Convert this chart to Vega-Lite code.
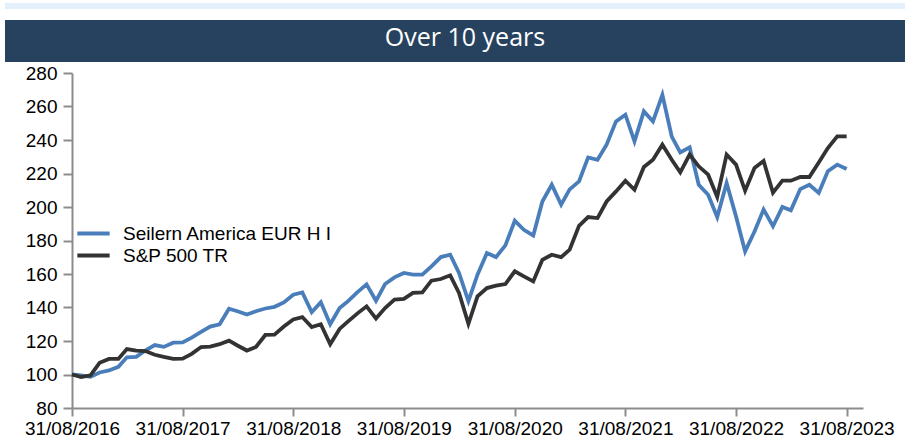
{
  "$schema": "https://vega.github.io/schema/vega-lite/v6.json",
  "padding": {"left": 5, "right": 5, "top": 0, "bottom": 0},
  "background": "white",
  "spacing": 2,
  "config": {"view": {"stroke": null}, "font": "Liberation Sans"},
  "vconcat": [
    {
      "spacing": 9,
      "vconcat": [
        {
          "width": 900, "height": 6,
          "view": {"fill": "#e3f0fb", "stroke": null},
          "data": {"values": [{"t": ""}]},
          "mark": {"type": "text"},
          "encoding": {"text": {"field": "t"}}
        },
        {
          "width": 900, "height": 42,
          "view": {"fill": "#27425e", "stroke": null},
          "data": {"values": [{"t": "Over 10 years"}]},
          "mark": {"type": "text", "font": "Open Sans", "fontSize": 25, "color": "white", "baseline": "middle", "dy": -3, "dx": 10},
          "encoding": {"text": {"field": "t"}}
        }
      ]
    },
    {
      "spacing": 20,
      "bounds": "flush",
      "hconcat": [
        {
          "width": 47, "height": 335,
          "data": {"values": [{"t": ""}]},
          "mark": {"type": "text"},
          "encoding": {"text": {"field": "t"}}
        },
        {
          "width": 791, "height": 335,
          "data": {"values": [
            {"date": "2016-08-31", "Seilern America EUR H I": 100, "S&P 500 TR": 100},
            {"date": "2016-09-30", "Seilern America EUR H I": 99.5, "S&P 500 TR": 98.5},
            {"date": "2016-10-31", "Seilern America EUR H I": 98.6, "S&P 500 TR": 99.5},
            {"date": "2016-11-30", "Seilern America EUR H I": 101.2, "S&P 500 TR": 107},
            {"date": "2016-12-31", "Seilern America EUR H I": 102.4, "S&P 500 TR": 109.3},
            {"date": "2017-01-31", "Seilern America EUR H I": 104.6, "S&P 500 TR": 109.3},
            {"date": "2017-02-28", "Seilern America EUR H I": 110.3, "S&P 500 TR": 115.2},
            {"date": "2017-03-31", "Seilern America EUR H I": 110.5, "S&P 500 TR": 114.3},
            {"date": "2017-04-30", "Seilern America EUR H I": 114.3, "S&P 500 TR": 114},
            {"date": "2017-05-31", "Seilern America EUR H I": 117.6, "S&P 500 TR": 111.8},
            {"date": "2017-06-30", "Seilern America EUR H I": 116.5, "S&P 500 TR": 110.5},
            {"date": "2017-07-31", "Seilern America EUR H I": 119, "S&P 500 TR": 109.3},
            {"date": "2017-08-31", "Seilern America EUR H I": 119.2, "S&P 500 TR": 109.5},
            {"date": "2017-09-30", "Seilern America EUR H I": 122, "S&P 500 TR": 112.3},
            {"date": "2017-10-31", "Seilern America EUR H I": 125.4, "S&P 500 TR": 116.4},
            {"date": "2017-11-30", "Seilern America EUR H I": 128.6, "S&P 500 TR": 116.7},
            {"date": "2017-12-31", "Seilern America EUR H I": 130, "S&P 500 TR": 118.1},
            {"date": "2018-01-31", "Seilern America EUR H I": 139.3, "S&P 500 TR": 120.2},
            {"date": "2018-02-28", "Seilern America EUR H I": 137.8, "S&P 500 TR": 117.3},
            {"date": "2018-03-31", "Seilern America EUR H I": 135.8, "S&P 500 TR": 114.3},
            {"date": "2018-04-30", "Seilern America EUR H I": 137.8, "S&P 500 TR": 116.4},
            {"date": "2018-05-31", "Seilern America EUR H I": 139.4, "S&P 500 TR": 123.6},
            {"date": "2018-06-30", "Seilern America EUR H I": 140.4, "S&P 500 TR": 123.8},
            {"date": "2018-07-31", "Seilern America EUR H I": 143, "S&P 500 TR": 128.6},
            {"date": "2018-08-31", "Seilern America EUR H I": 147.6, "S&P 500 TR": 132.9},
            {"date": "2018-09-30", "Seilern America EUR H I": 149, "S&P 500 TR": 134.3},
            {"date": "2018-10-31", "Seilern America EUR H I": 137.2, "S&P 500 TR": 128.3},
            {"date": "2018-11-30", "Seilern America EUR H I": 143.2, "S&P 500 TR": 130},
            {"date": "2018-12-31", "Seilern America EUR H I": 130, "S&P 500 TR": 118},
            {"date": "2019-01-31", "Seilern America EUR H I": 139.7, "S&P 500 TR": 127.2},
            {"date": "2019-02-28", "Seilern America EUR H I": 143.8, "S&P 500 TR": 131.7},
            {"date": "2019-03-31", "Seilern America EUR H I": 149.2, "S&P 500 TR": 136.5},
            {"date": "2019-04-30", "Seilern America EUR H I": 153.8, "S&P 500 TR": 140.7},
            {"date": "2019-05-31", "Seilern America EUR H I": 144, "S&P 500 TR": 133.4},
            {"date": "2019-06-30", "Seilern America EUR H I": 154, "S&P 500 TR": 139.7},
            {"date": "2019-07-31", "Seilern America EUR H I": 158, "S&P 500 TR": 144.7},
            {"date": "2019-08-31", "Seilern America EUR H I": 160.6, "S&P 500 TR": 145.1},
            {"date": "2019-09-30", "Seilern America EUR H I": 159.6, "S&P 500 TR": 148.7},
            {"date": "2019-10-31", "Seilern America EUR H I": 159.6, "S&P 500 TR": 149},
            {"date": "2019-11-30", "Seilern America EUR H I": 164.6, "S&P 500 TR": 156},
            {"date": "2019-12-31", "Seilern America EUR H I": 170.1, "S&P 500 TR": 157},
            {"date": "2020-01-31", "Seilern America EUR H I": 171.5, "S&P 500 TR": 159.2},
            {"date": "2020-02-29", "Seilern America EUR H I": 160.6, "S&P 500 TR": 148.7},
            {"date": "2020-03-31", "Seilern America EUR H I": 143.8, "S&P 500 TR": 130.3},
            {"date": "2020-04-30", "Seilern America EUR H I": 159.6, "S&P 500 TR": 146.6},
            {"date": "2020-05-31", "Seilern America EUR H I": 172.5, "S&P 500 TR": 151.6},
            {"date": "2020-06-30", "Seilern America EUR H I": 170.1, "S&P 500 TR": 153},
            {"date": "2020-07-31", "Seilern America EUR H I": 177.1, "S&P 500 TR": 154},
            {"date": "2020-08-31", "Seilern America EUR H I": 191.8, "S&P 500 TR": 161.6},
            {"date": "2020-09-30", "Seilern America EUR H I": 186.4, "S&P 500 TR": 158.6},
            {"date": "2020-10-31", "Seilern America EUR H I": 183, "S&P 500 TR": 155.6},
            {"date": "2020-11-30", "Seilern America EUR H I": 203.3, "S&P 500 TR": 168.5},
            {"date": "2020-12-31", "Seilern America EUR H I": 213.3, "S&P 500 TR": 171.5},
            {"date": "2021-01-31", "Seilern America EUR H I": 201.4, "S&P 500 TR": 170.1},
            {"date": "2021-02-28", "Seilern America EUR H I": 210.5, "S&P 500 TR": 174.5},
            {"date": "2021-03-31", "Seilern America EUR H I": 215.3, "S&P 500 TR": 188.8},
            {"date": "2021-04-30", "Seilern America EUR H I": 229.6, "S&P 500 TR": 194},
            {"date": "2021-05-31", "Seilern America EUR H I": 228.2, "S&P 500 TR": 193.4},
            {"date": "2021-06-30", "Seilern America EUR H I": 237.2, "S&P 500 TR": 203.3},
            {"date": "2021-07-31", "Seilern America EUR H I": 251.1, "S&P 500 TR": 209.3},
            {"date": "2021-08-31", "Seilern America EUR H I": 255.1, "S&P 500 TR": 215.7},
            {"date": "2021-09-30", "Seilern America EUR H I": 239.2, "S&P 500 TR": 210.3},
            {"date": "2021-10-31", "Seilern America EUR H I": 257.1, "S&P 500 TR": 223.9},
            {"date": "2021-11-30", "Seilern America EUR H I": 251.1, "S&P 500 TR": 228.2},
            {"date": "2021-12-31", "Seilern America EUR H I": 267, "S&P 500 TR": 237.2},
            {"date": "2022-01-31", "Seilern America EUR H I": 242, "S&P 500 TR": 228.2},
            {"date": "2022-02-28", "Seilern America EUR H I": 232.6, "S&P 500 TR": 220.7},
            {"date": "2022-03-31", "Seilern America EUR H I": 235.6, "S&P 500 TR": 231.3},
            {"date": "2022-04-30", "Seilern America EUR H I": 213.3, "S&P 500 TR": 224.3},
            {"date": "2022-05-31", "Seilern America EUR H I": 207.3, "S&P 500 TR": 219.3},
            {"date": "2022-06-30", "Seilern America EUR H I": 194, "S&P 500 TR": 206},
            {"date": "2022-07-31", "Seilern America EUR H I": 214.3, "S&P 500 TR": 231.3},
            {"date": "2022-08-31", "Seilern America EUR H I": 194.4, "S&P 500 TR": 225.3},
            {"date": "2022-09-30", "Seilern America EUR H I": 173.5, "S&P 500 TR": 209.7},
            {"date": "2022-10-31", "Seilern America EUR H I": 185.4, "S&P 500 TR": 223.3},
            {"date": "2022-11-30", "Seilern America EUR H I": 198.5, "S&P 500 TR": 227.5},
            {"date": "2022-12-31", "Seilern America EUR H I": 188.5, "S&P 500 TR": 208.5},
            {"date": "2023-01-31", "Seilern America EUR H I": 200, "S&P 500 TR": 215.7},
            {"date": "2023-02-28", "Seilern America EUR H I": 198, "S&P 500 TR": 215.7},
            {"date": "2023-03-31", "Seilern America EUR H I": 210.7, "S&P 500 TR": 217.9},
            {"date": "2023-04-30", "Seilern America EUR H I": 213.3, "S&P 500 TR": 217.9},
            {"date": "2023-05-31", "Seilern America EUR H I": 208.4, "S&P 500 TR": 226.6},
            {"date": "2023-06-30", "Seilern America EUR H I": 221.3, "S&P 500 TR": 235.2},
            {"date": "2023-07-31", "Seilern America EUR H I": 225.3, "S&P 500 TR": 242.2},
            {"date": "2023-08-31", "Seilern America EUR H I": 222.7, "S&P 500 TR": 242.2}
          ]},
          "transform": [{"fold": ["Seilern America EUR H I", "S&P 500 TR"], "as": ["series", "value"]}],
          "encoding": {
            "x": {
              "field": "date", "type": "temporal",
              "scale": {"type": "utc", "domain": [{"year": 2016, "month": 8, "date": 31, "utc": true}, {"year": 2023, "month": 10, "date": 24, "utc": true}]},
              "axis": {
                "title": null, "grid": false,
                "values": [
                  {"year": 2016, "month": 8, "date": 31, "utc": true},
                  {"year": 2017, "month": 8, "date": 31, "utc": true},
                  {"year": 2018, "month": 8, "date": 31, "utc": true},
                  {"year": 2019, "month": 8, "date": 31, "utc": true},
                  {"year": 2020, "month": 8, "date": 31, "utc": true},
                  {"year": 2021, "month": 8, "date": 31, "utc": true},
                  {"year": 2022, "month": 8, "date": 31, "utc": true},
                  {"year": 2023, "month": 8, "date": 31, "utc": true}
                ],
                "labelExpr": "utcFormat(datum.value, '%d/%m/%Y')",
                "labelFont": "Liberation Sans", "labelFontSize": 19, "labelColor": "#000000",
                "labelOverlap": false, "labelFlush": false, "labelBound": false,
                "labelPadding": 3,
                "domainColor": "#8c8c8c", "domainWidth": 2,
                "tickColor": "#8c8c8c", "tickWidth": 2, "tickSize": 8
              }
            },
            "y": {
              "field": "value", "type": "quantitative",
              "scale": {"domain": [80, 280], "nice": false, "zero": false},
              "axis": {
                "title": null, "grid": false,
                "values": [80, 100, 120, 140, 160, 180, 200, 220, 240, 260, 280],
                "labelFont": "Liberation Sans", "labelFontSize": 19, "labelColor": "#000000",
                "labelPadding": 6,
                "domainColor": "#8c8c8c", "domainWidth": 2,
                "tickColor": "#8c8c8c", "tickWidth": 2, "tickSize": 9
              }
            },
            "color": {
              "field": "series", "type": "nominal",
              "scale": {"domain": ["Seilern America EUR H I", "S&P 500 TR"], "range": ["#4a7ebb", "#333333"]},
              "legend": {
                "orient": "none", "legendX": 77, "legendY": 219, "title": null,
                "symbolType": "M-1.7,0H1.7", "symbolSize": 361, "symbolStrokeWidth": 4,
                "labelFont": "Liberation Sans", "labelFontSize": 19, "labelColor": "#000000",
                "labelOffset": 18, "rowPadding": 0, "padding": 0, "labelLimit": 400
              }
            }
          },
          "layer": [
            {
              "transform": [{"filter": "datum.series == 'Seilern America EUR H I'"}],
              "mark": {"type": "line", "strokeWidth": 3.8}
            },
            {
              "transform": [{"filter": "datum.series == 'S&P 500 TR'"}],
              "mark": {"type": "line", "strokeWidth": 3.8}
            }
          ]
        }
      ]
    }
  ]
}
